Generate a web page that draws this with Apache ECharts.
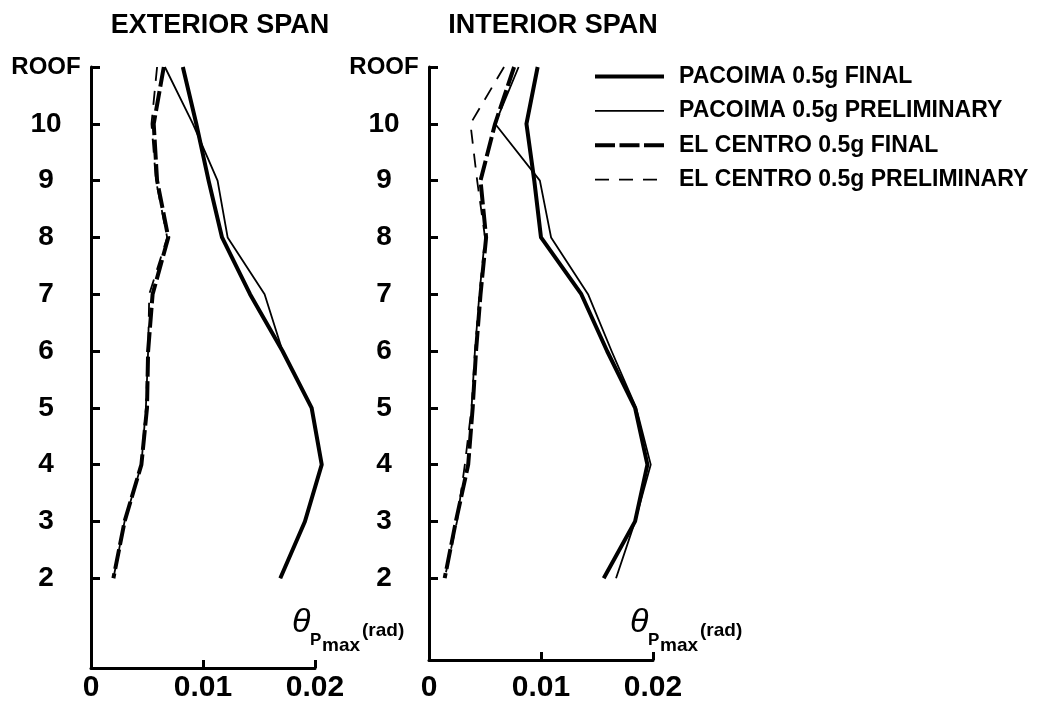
<!DOCTYPE html>
<html>
<head>
<meta charset="utf-8">
<title>Plastic rotation envelopes</title>
<script src="https://cdn.jsdelivr.net/npm/echarts@6/dist/echarts.min.js"></script>
<style>
  html, body { margin: 0; padding: 0; background: #fff; }
  #chart { width: 1054px; height: 705px; }
</style>
</head>
<body>
<div id="chart"></div>
<script>
// Floor levels (ROOF = 11) and their tick labels
const floors = [11, 10, 9, 8, 7, 6, 5, 4, 3, 2];
const floorLabels = ['ROOF', '10', '9', '8', '7', '6', '5', '4', '3', '2'];
const rotationTicks = [0, 0.01, 0.02];

const seriesNames = [
  'PACOIMA 0.5g FINAL',
  'PACOIMA 0.5g PRELIMINARY',
  'EL CENTRO 0.5g FINAL',
  'EL CENTRO 0.5g PRELIMINARY'
];

// Maximum plastic rotation (rad), listed from ROOF down to floor 2
const extPacoimaFinal   = [0.0082, 0.0094, 0.0105, 0.0117, 0.0142, 0.0171, 0.0197, 0.0206, 0.0191, 0.0169];
const extPacoimaPrelim  = [0.0066, 0.0091, 0.0113, 0.0122, 0.0155, 0.0171, 0.0197, 0.0206, 0.0191, 0.0169];
const extElCentroFinal  = [0.0065, 0.0056, 0.0059, 0.0069, 0.0055, 0.0051, 0.0050, 0.0045, 0.0030, 0.0020];
const extElCentroPrelim = [0.0059, 0.0054, 0.0058, 0.0068, 0.0052, 0.0051, 0.0049, 0.0045, 0.0030, 0.0020];

const intPacoimaFinal   = [0.0097, 0.0087, 0.0094, 0.0100, 0.0136, 0.0159, 0.0184, 0.0195, 0.0184, 0.0156];
const intPacoimaPrelim  = [0.0080, 0.0059, 0.0099, 0.0109, 0.0142, 0.0163, 0.0185, 0.0198, 0.0184, 0.0167];
const intElCentroFinal  = [0.0076, 0.0059, 0.0046, 0.0051, 0.0046, 0.0042, 0.0039, 0.0035, 0.0024, 0.0014];
const intElCentroPrelim = [0.0067, 0.0037, 0.0043, 0.0050, 0.0045, 0.0041, 0.0038, 0.0032, 0.0025, 0.0014];

const FONT = 'Liberation Sans';
const INK = '#000';

// Panel frames: visible axes run 0..0.02; the curves sit on a twin grid
// with the same scale that reaches a little past 0.02 so nothing is clipped.
const panels = [
  { left: 91, top: 67, width: 224, height: 601, yMin: 0.42, labelMargin: 5 },
  { left: 429, top: 67, width: 224, height: 593, yMin: 0.56, labelMargin: 13 }
];
const X_MAX = 0.02;
const X_MAX_DATA = 0.022;

// Line styles: thick/thin, solid/dashed
const styles = [
  { width: 4, type: 'solid', z: 2 },
  { width: 1.8, type: 'solid', z: 4 },
  { width: 4, type: [20, 4.5], z: 3 },
  { width: 1.8, type: [14, 10], z: 5 }
];

function pairs(values) {
  return values.map((v, i) => [v, floors[i]]);
}

function makeSeries(axisIdx, sets) {
  return sets.map((vals, k) => ({
    type: 'line',
    name: seriesNames[k],
    xAxisIndex: axisIdx,
    yAxisIndex: axisIdx,
    data: pairs(vals),
    symbol: 'none',
    clip: false,
    animation: false,
    z: styles[k].z,
    itemStyle: { color: INK },
    lineStyle: { color: INK, width: styles[k].width, type: styles[k].type, cap: 'butt', join: 'round' }
  }));
}

function xAxisFor(panel) {
  return {
    type: 'value', gridIndex: panel, min: 0, max: X_MAX, interval: 0.01,
    axisLine: { lineStyle: { color: INK, width: 3 } },
    axisTick: { inside: true, length: 8, lineStyle: { color: INK, width: 3 } },
    splitLine: { show: false },
    axisLabel: {
      color: INK, fontFamily: FONT, fontSize: 30, fontWeight: 'bold', margin: panels[panel].labelMargin,
      formatter: v => (v === 0 ? '0' : v.toFixed(2))
    }
  };
}

function yAxisFor(panel) {
  return {
    type: 'value', gridIndex: panel, min: panels[panel].yMin, max: 11,
    axisLine: { lineStyle: { color: INK, width: 3 } },
    axisTick: { inside: true, length: 9, customValues: floors, lineStyle: { color: INK, width: 3 } },
    splitLine: { show: false },
    axisLabel: {
      customValues: floors, margin: 45, align: 'center',
      formatter: v => {
        const label = floorLabels[floors.indexOf(Math.round(v))];
        return label === 'ROOF' ? '{r|' + label + '}' : '{n|' + label + '}';
      },
      rich: {
        r: { fontFamily: FONT, fontSize: 24, fontWeight: 'bold', color: INK },
        n: { fontFamily: FONT, fontSize: 28, fontWeight: 'bold', color: INK }
      }
    }
  };
}

// Hidden twin axes carrying the curves
function dataXAxis(gridIdx) {
  return { type: 'value', gridIndex: gridIdx, min: 0, max: X_MAX_DATA, show: false, splitLine: { show: false } };
}
function dataYAxis(gridIdx, panel) {
  return { type: 'value', gridIndex: gridIdx, min: panels[panel].yMin, max: 11, show: false, splitLine: { show: false } };
}

// Axis name θ_Pmax (rad), drawn as separate pieces for the sub/superscripts
function axisName(x0) {
  const base = { fill: INK, fontFamily: FONT };
  return [
    { type: 'text', left: x0, top: 606, style: Object.assign({}, base, { text: 'θ', fontSize: 34, fontStyle: 'italic' }) },
    { type: 'text', left: x0 + 18, top: 632, style: Object.assign({}, base, { text: 'P', fontSize: 17, fontWeight: 'bold' }) },
    { type: 'text', left: x0 + 30, top: 636, style: Object.assign({}, base, { text: 'max', fontSize: 19, fontWeight: 'bold' }) },
    { type: 'text', left: x0 + 70, top: 621, style: Object.assign({}, base, { text: '(rad)', fontSize: 19, fontWeight: 'bold' }) }
  ];
}

const grids = panels.map(p => ({ left: p.left, top: p.top, width: p.width, height: p.height }))
  .concat(panels.map(p => ({ left: p.left, top: p.top, width: p.width * X_MAX_DATA / X_MAX, height: p.height })));

const option = {
  backgroundColor: '#fff',
  animation: false,
  grid: grids,
  xAxis: [xAxisFor(0), xAxisFor(1), dataXAxis(2), dataXAxis(3)],
  yAxis: [yAxisFor(0), yAxisFor(1), dataYAxis(2, 0), dataYAxis(3, 1)],
  legend: {
    data: seriesNames,
    orient: 'vertical',
    left: 588, top: 60,
    itemWidth: 69, itemHeight: 24, itemGap: 11.4,
    selectedMode: false,
    itemStyle: { opacity: 0 },
    lineStyle: { width: 'inherit', type: 'inherit', color: INK },
    textStyle: { color: INK, fontFamily: FONT, fontSize: 23, fontWeight: 'bold', padding: [0, 0, 0, 10] }
  },
  graphic: [
    { type: 'text', x: 220, y: 12, style: { text: 'EXTERIOR SPAN', fill: INK, fontFamily: FONT, fontSize: 27, fontWeight: 'bold', align: 'center' } },
    { type: 'text', x: 553, y: 12, style: { text: 'INTERIOR SPAN', fill: INK, fontFamily: FONT, fontSize: 27, fontWeight: 'bold', align: 'center' } }
  ].concat(axisName(292), axisName(630)),
  series: makeSeries(2, [extPacoimaFinal, extPacoimaPrelim, extElCentroFinal, extElCentroPrelim])
    .concat(makeSeries(3, [intPacoimaFinal, intPacoimaPrelim, intElCentroFinal, intElCentroPrelim]))
};

const chart = echarts.init(document.getElementById('chart'), null, { renderer: 'canvas' });
chart.setOption(option);
</script>
</body>
</html>
